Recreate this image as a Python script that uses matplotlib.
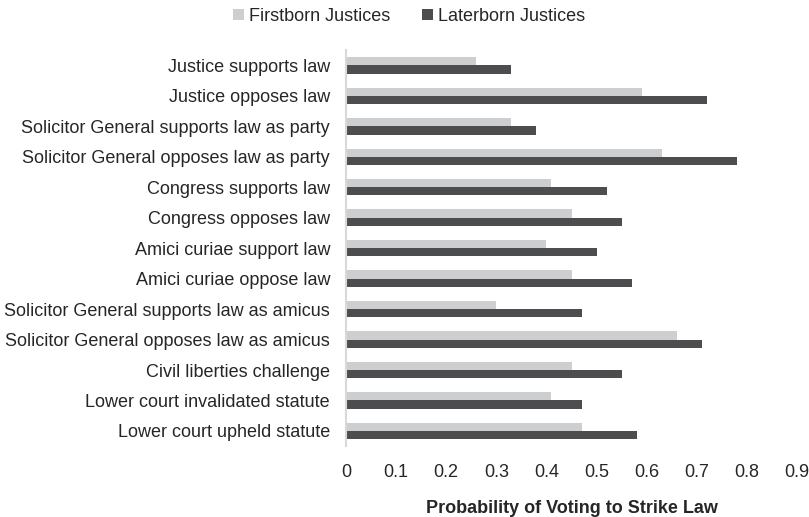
import numpy as np
import matplotlib.pyplot as plt

plt.rcParams['font.family'] = ['Liberation Sans', 'DejaVu Sans']

categories = ["Justice supports law", "Justice opposes law",
              "Solicitor General supports law as party",
              "Solicitor General opposes law as party",
              "Congress supports law", "Congress opposes law",
              "Amici curiae support law", "Amici curiae oppose law",
              "Solicitor General supports law as amicus",
              "Solicitor General opposes law as amicus",
              "Civil liberties challenge", "Lower court invalidated statute",
              "Lower court upheld statute"]
firstborn = [0.26, 0.59, 0.33, 0.63, 0.41, 0.45, 0.40, 0.45, 0.30, 0.66, 0.45, 0.41, 0.47]
laterborn = [0.33, 0.72, 0.38, 0.78, 0.52, 0.55, 0.50, 0.57, 0.47, 0.71, 0.55, 0.47, 0.58]
xticks = [0, 0.1, 0.2, 0.3, 0.4, 0.5, 0.6, 0.7, 0.8, 0.9]

fig = plt.figure(figsize=(8.09, 5.17), dpi=100)
ax = fig.add_axes([0.4277, 0.137, 0.5575, 0.766])

y = np.arange(len(categories))
h = 0.27
ax.barh(y - h / 2, firstborn, height=h, color='#CDCED0', label='Firstborn Justices')
ax.barh(y + h / 2, laterborn, height=h, color='#4D4D4F', label='Laterborn Justices')

ax.set_ylim(len(categories) - 0.5, -0.5)
ax.set_xlim(0, 0.9)
ax.set_yticks(y)
ax.set_yticklabels(categories, fontsize=13, color='#262626')
ax.set_xticks(xticks)
ax.set_xticklabels([f"{t:g}" for t in xticks], fontsize=13, color='#262626')
ax.tick_params(axis='both', length=0)
ax.tick_params(axis='y', pad=11.5)
ax.tick_params(axis='x', pad=12.5)
for s in ['top', 'right', 'bottom']:
    ax.spines[s].set_visible(False)
ax.spines['left'].set_color('#D9D9D9')
ax.spines['left'].set_linewidth(1.5)
ax.set_xlabel('Probability of Voting to Strike Law', fontsize=13, fontweight='bold',
              color='#262626', labelpad=14)

fig.legend(loc='upper center', bbox_to_anchor=(0.506, 1.016), ncol=2, frameon=False,
           fontsize=13, handlelength=0.6, handleheight=0.6, handletextpad=0.3,
           columnspacing=1.75, labelcolor='#262626')

fig.savefig('out.png', dpi=100)
